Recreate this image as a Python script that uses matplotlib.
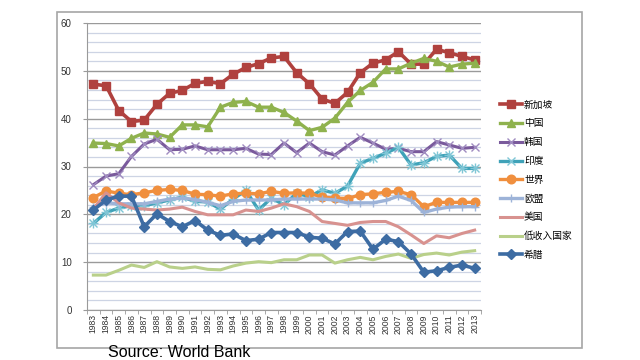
import matplotlib
matplotlib.use("Agg")
import matplotlib.pyplot as plt
from matplotlib.patches import Rectangle

# -------- data --------
years = [str(y) for y in range(1983, 2014)]

singapore = [47.2, 46.9, 41.7, 39.4, 39.7, 43.0, 45.3, 45.9, 47.4, 47.8, 47.3,
             49.3, 50.7, 51.5, 52.7, 53.0, 49.6, 47.3, 44.1, 43.2, 45.5,
             49.6, 51.6, 52.3, 54.0, 51.4, 51.4, 54.5, 53.8, 53.0, 52.3]
china = [34.9, 34.8, 34.3, 35.9, 37.0, 36.8, 36.1, 38.7, 38.7, 38.3, 42.4,
         43.4, 43.6, 42.4, 42.4, 41.3, 39.5, 37.5, 38.2, 40.1, 43.4,
         45.9, 47.6, 50.4, 50.4, 51.6, 52.6, 52.0, 50.8, 51.4, 51.6]
korea = [26.2, 28.0, 28.5, 32.1, 34.7, 35.7, 33.5, 33.6, 34.3, 33.5, 33.5,
         33.5, 33.8, 32.6, 32.5, 34.9, 32.9, 34.9, 33.1, 32.4, 34.3,
         36.1, 34.9, 33.6, 33.8, 33.1, 33.1, 35.2, 34.5, 33.8, 34.0]
india = [18.1, 20.4, 21.3, 21.8, 21.8, 22.4, 23.0, 23.6, 22.7, 22.6, 21.1,
         23.2, 25.0, 20.9, 23.4, 22.0, 24.4, 23.7, 25.1, 24.4, 25.9,
         30.7, 31.7, 32.8, 34.0, 30.3, 30.8, 32.1, 32.4, 29.6, 29.6]
world = [23.5, 24.9, 24.4, 24.1, 24.5, 25.0, 25.2, 25.0, 24.2, 24.1, 23.8,
         24.3, 24.4, 24.3, 24.8, 24.4, 24.5, 24.4, 23.6, 23.4, 23.3,
         24.1, 24.3, 24.6, 24.8, 24.1, 21.6, 22.5, 22.5, 22.5, 22.5]
eu = [21.6, 22.4, 22.2, 22.2, 22.2, 22.7, 23.2, 23.4, 23.1, 22.5, 21.8,
      22.7, 23.0, 23.0, 23.0, 23.2, 23.2, 23.2, 23.2, 23.0, 22.4,
      22.4, 22.4, 22.9, 23.8, 22.9, 20.4, 21.1, 21.5, 21.6, 21.6]
usa = [21.1, 24.5, 22.4, 21.3, 21.1, 20.9, 21.1, 21.5, 20.6, 19.9, 19.9,
       19.9, 20.9, 20.6, 21.3, 22.2, 21.6, 20.6, 18.5, 18.1, 17.7,
       18.3, 18.5, 18.5, 17.4, 15.7, 13.9, 15.5, 15.1, 16.0, 16.7]
low_income = [7.3, 7.3, 8.3, 9.4, 8.9, 10.1, 9.0, 8.7, 9.0, 8.5, 8.4,
              9.2, 9.8, 10.1, 9.9, 10.5, 10.5, 11.5, 11.5, 9.8, 10.5,
              11.0, 10.5, 11.2, 11.7, 10.8, 11.6, 11.9, 11.5, 12.1, 12.4]
greece = [20.9, 23.0, 23.8, 23.8, 17.4, 20.1, 18.5, 17.4, 18.7, 16.7, 15.6,
          15.9, 14.5, 14.8, 16.2, 16.2, 16.2, 15.2, 15.0, 13.8, 16.4,
          16.5, 12.7, 14.8, 14.3, 11.7, 7.9, 8.2, 8.9, 9.4, 8.7]

labels = ["新加坡", "中国", "韩国", "印度", "世界", "欧盟", "美国", "低收入国家", "希腊"]

# -------- styling --------
plt.rcParams["font.family"] = ["Noto Sans CJK SC", "DejaVu Sans"]

fig = plt.figure(figsize=(6.4, 3.6), dpi=100)
fig.patches.append(Rectangle((57 / 640, 12 / 360), (582 - 57) / 640, (348 - 12) / 360,
                             transform=fig.transFigure, fill=False,
                             edgecolor="#a6a6a6", linewidth=1.2))
ax = fig.add_axes([87 / 640, 1 - 310 / 360, (481 - 87) / 640, (310 - 23) / 360])

x = list(range(len(years)))
series = [
    (singapore, "#b0413e", "s", 5.8, 2.6),
    (china, "#8fb24e", "^", 6.2, 2.4),
    (korea, "#7a5a9c", "x", 6, 2.2),
    (india, "#3fa2b8", "*", 0, 2.4),
    (world, "#f08f3e", "o", 6.2, 2.4),
    (eu, "#9db3d8", "+", 6, 2.4),
    (usa, "#d8928f", None, 0, 2.2),
    (low_income, "#b9d08a", None, 0, 2.2),
    (greece, "#3d6ca3", "D", 4.8, 2.6),
]
for (vals, col, mk, ms, lw), lab in zip(series, labels):
    if vals is india:
        # asterisk marker: an x and a + drawn on top of each other
        ax.plot(x, vals, color=col, lw=lw, label=lab, marker="x", ms=6,
                mew=1.0, mec="#7fc6d6")
        ax.plot(x, vals, color=col, lw=0, marker="+", ms=7, mew=1.0, mec="#7fc6d6")
    elif mk in ("x", "+"):
        ax.plot(x, vals, color=col, lw=lw, label=lab, marker=mk, ms=ms,
                mew=1.0, mec=col if mk == "+" else "#a08cc0")
    else:
        ax.plot(x, vals, color=col, lw=lw, label=lab, marker=mk, ms=ms,
                mec=col, mfc=col)

ax.set_xlim(-0.5, len(years) - 0.5)
ax.set_ylim(0, 60)
ax.set_yticks(range(0, 61, 10))
ax.set_yticks(range(0, 61, 2), minor=True)
ax.grid(axis="y", which="major", color="#9a9a9a", lw=1.0)
ax.grid(axis="y", which="minor", color="#cdd4e4", lw=0.9)
ax.set_axisbelow(True)
ax.set_xticks(x)
ax.set_xticklabels(years, rotation=90, fontsize=6.2, family="Liberation Sans")
ax.set_xticks([i - 0.5 for i in range(len(years) + 1)], minor=True)
ax.tick_params(axis="x", which="major", length=0, pad=3, colors="#333333")
ax.tick_params(axis="x", which="minor", length=3, color="#9a9a9a")
ax.tick_params(axis="y", which="major", length=3, color="#9a9a9a", labelsize=7,
               pad=8, labelcolor="#333333")
ax.tick_params(axis="y", which="minor", length=0)
for lbl in ax.get_yticklabels():
    lbl.set_family("Liberation Sans")
for s in ["top", "right"]:
    ax.spines[s].set_visible(False)
ax.spines["left"].set_color("#9a9a9a")
ax.spines["bottom"].set_color("#9a9a9a")

ax.legend(loc="upper left", bbox_to_anchor=(491 / 640, 1 - 91 / 360),
          bbox_transform=fig.transFigure, frameon=False, fontsize=7,
          labelspacing=0.9, handlelength=2.3, handletextpad=0.2)

fig.text(108 / 640, 1 - 357 / 360, "Source: World Bank", fontsize=11.5,
         family="Liberation Sans", color="black")

fig.savefig("out.png", dpi=100)
